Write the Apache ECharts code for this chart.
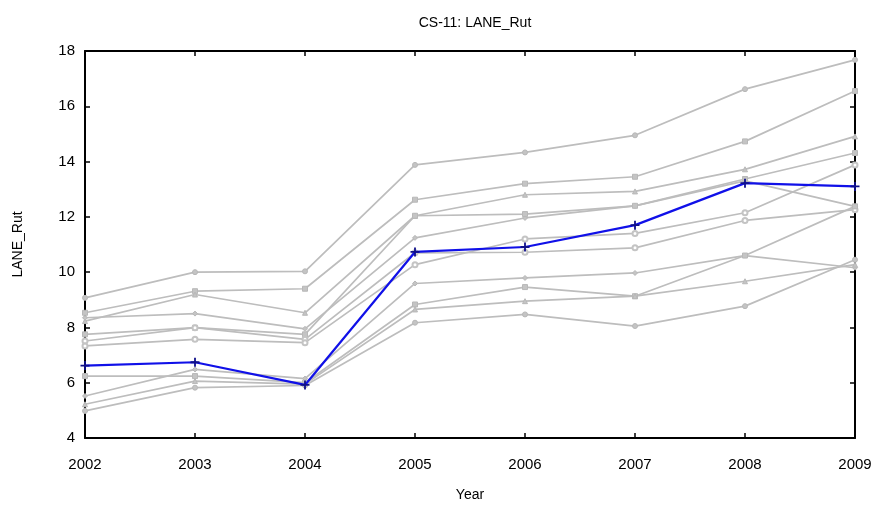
<!DOCTYPE html>
<html>
<head>
<meta charset="utf-8">
<script src="https://cdn.jsdelivr.net/npm/echarts@6/dist/echarts.min.js"></script>
<style>html,body{margin:0;padding:0;background:#fff}#c{width:878px;height:507px}</style>
</head>
<body>
<div id="c"></div>
<script>
const years = ['2002','2003','2004','2005','2006','2007','2008','2009'];
const yTicks = [4, 6, 8, 10, 12, 14, 16, 18];
const grayA = [9.07, 10.0, 10.03, 13.88, 14.33, 14.95, 16.62, 17.68];
const grayB = [8.53, 9.31, 9.40, 12.62, 13.20, 13.45, 14.73, 16.55];
const grayC = [8.23, 9.19, 8.53, 12.04, 12.80, 12.92, 13.72, 14.91];
const grayD = [8.35, 8.50, 7.95, 11.24, 11.96, 12.40, 13.30, 12.38];
const grayE = [7.75, 7.99, 7.75, 12.04, 12.10, 12.40, 13.37, 14.31];
const grayF = [7.51, 7.99, 7.57, 10.70, 10.72, 10.88, 11.87, 12.26];
const grayG = [7.33, 7.57, 7.45, 10.27, 11.20, 11.40, 12.15, 13.88];
const grayH = [5.52, 6.48, 6.15, 9.59, 9.79, 9.97, 10.60, 10.16];
const grayI = [6.24, 6.24, 6.00, 8.83, 9.46, 9.13, 10.60, 12.38];
const grayJ = [5.22, 6.06, 5.95, 8.65, 8.95, 9.13, 9.67, 10.27];
const grayK = [4.98, 5.82, 5.90, 8.17, 8.47, 8.05, 8.77, 10.45];
const blueLine = [6.62, 6.74, 5.92, 10.73, 10.91, 11.70, 13.22, 13.10];

const grays = [
  [grayA, 'circle'], [grayB, 'rect'], [grayC, 'triangle'], [grayD, 'diamond'],
  [grayE, 'rect'], [grayF, 'emptyCircle'], [grayG, 'emptyCircle'], [grayH, 'diamond'],
  [grayI, 'rect'], [grayJ, 'triangle'], [grayK, 'circle']
];

const series = grays.map(([d, sym]) => ({
  type: 'line', data: d, symbol: sym, symbolSize: 5,
  lineStyle: {color: '#bdbdbd', width: 1.7},
  itemStyle: {color: '#c4c4c4', borderColor: '#b8b8b8'},
  emphasis: {disabled: true}, z: 2
}));
series.push({
  type: 'line', data: blueLine, symbol: 'path://M-1,-5 L1,-5 L1,-1 L5,-1 L5,1 L1,1 L1,5 L-1,5 L-1,1 L-5,1 L-5,-1 L-1,-1 Z',
  symbolSize: 9, lineStyle: {color: '#1010e8', width: 2.2},
  itemStyle: {color: '#10108a'}, emphasis: {disabled: true}, z: 5
});

const fam = 'Liberation Sans, Arial, sans-serif';
const tickFont = {color: '#000', fontSize: 15, fontFamily: fam};
const nameFont = {color: '#000', fontSize: 14, fontFamily: fam};
const chart = echarts.init(document.getElementById('c'), null, {renderer: 'canvas'});
chart.setOption({
  animation: false,
  backgroundColor: '#fff',
  title: {
    text: 'CS-11: LANE_Rut', left: 470, top: 11, textAlign: 'center',
    textStyle: {fontSize: 14, fontWeight: 'normal', color: '#000', fontFamily: fam}
  },
  grid: {left: 85, right: 23, top: 51, bottom: 68},
  xAxis: [{
    type: 'category', data: years, boundaryGap: false,
    name: 'Year', nameLocation: 'middle', nameGap: 50,
    nameTextStyle: nameFont,
    axisLine: {lineStyle: {color: '#000', width: 2}},
    axisTick: {inside: true, length: 5, lineStyle: {color: '#000', width: 1.5}},
    axisLabel: Object.assign({margin: 19}, tickFont),
    splitLine: {show: false}
  }, {
    type: 'category', data: years, boundaryGap: false, position: 'top',
    axisLine: {lineStyle: {color: '#000', width: 2}},
    axisTick: {inside: true, length: 5, lineStyle: {color: '#000', width: 1.5}},
    axisLabel: {show: false}, splitLine: {show: false}
  }],
  yAxis: [{
    type: 'value', min: 4, max: 18, interval: 2,
    name: 'LANE_Rut', nameLocation: 'middle', nameGap: 60, nameRotate: 90,
    nameTextStyle: nameFont,
    axisLine: {show: true, lineStyle: {color: '#000', width: 2}},
    axisTick: {show: true, inside: true, length: 5, lineStyle: {color: '#000', width: 1.5}},
    axisLabel: Object.assign({margin: 10, customValues: yTicks}, tickFont),
    splitLine: {show: false}
  }, {
    type: 'value', min: 4, max: 18, interval: 2, position: 'right',
    axisLine: {show: true, lineStyle: {color: '#000', width: 2}},
    axisTick: {show: true, inside: true, length: 5, lineStyle: {color: '#000', width: 1.5}},
    axisLabel: {show: false}, splitLine: {show: false}
  }],
  series: series
});
</script>
</body>
</html>
